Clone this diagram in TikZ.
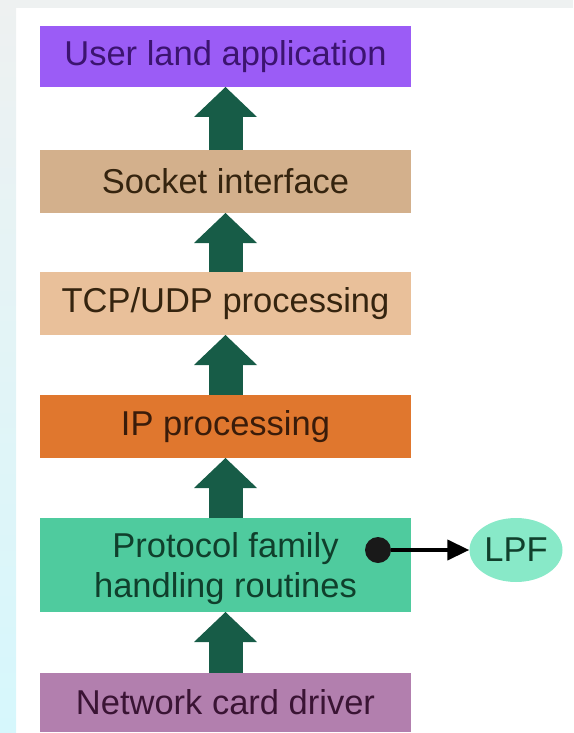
\documentclass[tikz,border=0pt]{standalone}
\usepackage{fontspec}
\setmainfont{Liberation Sans}
\usepackage{xcolor}
\usetikzlibrary{arrows.meta,shapes.geometric}

\definecolor{userfill}{HTML}{9B5CF6}
\definecolor{usertext}{HTML}{3C1470}
\definecolor{sockfill}{HTML}{D3B08C}
\definecolor{tcpfill}{HTML}{E9C09A}
\definecolor{brown}{HTML}{35240F}
\definecolor{ipfill}{HTML}{E0772E}
\definecolor{ipText}{HTML}{3A1C0A}
\definecolor{protofill}{HTML}{4FCB9E}
\definecolor{greentext}{HTML}{103F2C}
\definecolor{netfill}{HTML}{B27FAE}
\definecolor{nettext}{HTML}{3A1434}
\definecolor{lpffill}{HTML}{88E9C8}
\definecolor{upgreen}{HTML}{175C47}
\definecolor{edgegrey}{HTML}{EEF1F1}
\definecolor{edgecyan}{HTML}{D6F7FC}

\tikzset{
  layer/.style={rectangle, minimum width=371pt, minimum height=63pt,
    inner sep=0pt, outer sep=0pt, align=center,
    font=\fontsize{34.5}{40}\selectfont},
  upflow/.style={draw=upgreen, line width=34pt,
    -{Triangle[length=30pt, width=63pt, line width=0pt 0 0]}},
}

\begin{document}
\begin{tikzpicture}[x=1pt, y=-1pt]
    \useasboundingbox (0,0) rectangle (573,733);
    \fill[edgegrey] (0,0) rectangle (573,8);
    \shade[top color=edgegrey, bottom color=edgecyan] (0,0) rectangle (16,733);

    \node[layer, fill=userfill, text=usertext, minimum height=61pt] (user) at (225.5,56.5)
    {User land application}; \node[layer, fill=sockfill, text=brown] (sock) at (225.5,181.5)
    {Socket interface}; \node[layer, fill=tcpfill, text=brown] (tcp) at (225.5,303.5)
    {TCP/UDP processing}; \node[layer, fill=ipfill, text=ipText] (ip) at (225.5,426.5)
    {IP processing}; \node[layer, fill=protofill, text=greentext, minimum height=94pt,
      text depth=0pt] (proto) at (225.5,565)
    {Protocol family\\handling routines}; \node[layer, fill=netfill, text=nettext, minimum height=59pt] (net) at (225.5,702.5)
    {Network card driver};

    \draw[upflow] (net) -- (proto); \draw[upflow] (proto) -- (ip); \draw[upflow] (ip) --
    (tcp); \draw[upflow] (tcp) -- (sock); \draw[upflow] (sock) -- (user);

    \node[ellipse, fill=lpffill, minimum width=93pt, minimum height=64pt, inner sep=0pt,
      text=greentext, font=\fontsize{34.5}{40}\selectfont] (lpf) at (516,550) {LPF};
    \node[circle, fill=black!90, minimum size=26pt, inner sep=0pt] (tap) at (378,550) {};
    \draw[line width=4pt, -{Triangle[length=22pt, width=20pt]}] (tap) -- (lpf);
  \end{tikzpicture}
\end{document}
